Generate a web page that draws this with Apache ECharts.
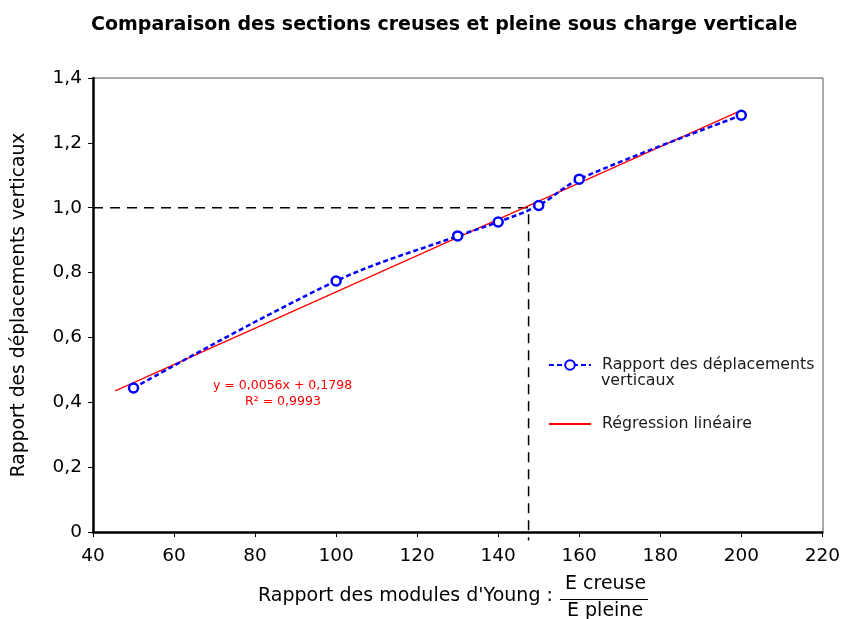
<!DOCTYPE html>
<html>
<head>
<meta charset="utf-8">
<script src="https://cdn.jsdelivr.net/npm/echarts@6/dist/echarts.min.js"></script>
<style>
  html, body { margin: 0; padding: 0; background: #fff; }
  #chart { width: 843px; height: 619px; }
</style>
</head>
<body>
<div id="chart"></div>
<script>
// measured values
var ratioX = [50, 100, 130, 140, 150, 160, 200];
var dispY = [0.444, 0.774, 0.913, 0.956, 1.007, 1.088, 1.285];
var regX = [45.5, 200];
var regY = [0.435, 1.30];
var refX = 147.5;
var refY = 1.0;

var font = "DejaVu Sans";

function comma(v) {
  if (v === 0) return "0";
  return v.toFixed(1).replace(".", ",");
}

var chart = echarts.init(document.getElementById("chart"));

var option = {
  animation: false,
  title: {
    text: "Comparaison des sections creuses et pleine sous charge verticale",
    left: 86,
    top: 11,
    textStyle: { fontFamily: font, fontSize: 19, fontWeight: "bold", color: "#000" },
  },
  grid: { left: 93, top: 78, width: 730, height: 454 },
  legend: {
    orient: "vertical",
    left: 543,
    top: 352,
    itemWidth: 42,
    itemHeight: 12,
    itemGap: 43,
    textStyle: { fontFamily: font, fontSize: 15.8, color: "#1a1a1a", padding: [0, 0, 0, 6] },
    formatter: function (name) {
      return name === "Rapport des déplacements verticaux" ? "Rapport des déplacements" : name;
    },
    data: [
      "Rapport des déplacements verticaux",
      { name: "Régression linéaire", itemStyle: { opacity: 0 } },
    ],
  },
  xAxis: {
    type: "value",
    min: 40,
    max: 220,
    interval: 20,
    axisLine: { onZero: false, lineStyle: { color: "#000", width: 2.5 } },
    axisTick: { lineStyle: { color: "#000" }, length: 5 },
    axisLabel: { fontFamily: font, fontSize: 18.5, color: "#000", margin: 15 },
    splitLine: { show: false },
  },
  yAxis: {
    type: "value",
    min: 0,
    max: 1.4,
    interval: 0.2,
    name: "Rapport des déplacements verticaux",
    nameLocation: "middle",
    nameGap: 64,
    nameTextStyle: { fontFamily: font, fontSize: 18.7, color: "#000" },
    axisLine: { show: true, lineStyle: { color: "#000", width: 2.5 } },
    axisTick: { show: true, lineStyle: { color: "#000" }, length: 5 },
    axisLabel: { fontFamily: font, fontSize: 18.5, color: "#000", margin: 11, formatter: comma },
    splitLine: { show: false },
  },
  series: [
    {
      name: "Rapport des déplacements verticaux",
      type: "line",
      smooth: 0.35,
      data: ratioX.map(function (x, i) { return [x, dispY[i]]; }),
      symbol: "circle",
      symbolSize: 9,
      itemStyle: { color: "#fff", borderColor: "#0000ff", borderWidth: 2.5 },
      lineStyle: { color: "#0000ff", width: 2.5, type: [5, 3] },
      z: 3,
    },
    {
      name: "Régression linéaire",
      type: "line",
      data: regX.map(function (x, i) { return [x, regY[i]]; }),
      symbol: "none",
      lineStyle: { color: "#ff0000", width: 1.3 },
      itemStyle: { color: "#ff0000" },
      clip: false,
      z: 2,
    },
    {
      name: "ref",
      type: "line",
      data: [[40, refY], [refX, refY], [refX, -0.026]],
      symbol: "none",
      lineStyle: { color: "#000", width: 1.5, type: [10, 7] },
      clip: false,
      silent: true,
      z: 1,
    },
  ],
  graphic: [
    // top and right frame
    { type: "polyline", shape: { points: [[93, 78], [823, 78], [823, 532]] }, style: { stroke: "#555", lineWidth: 1, fill: null } },
    // second line of the first legend entry
    {
      type: "text", left: 601, top: 373,
      style: { text: "verticaux", fill: "#1a1a1a", font: "15.8px " + font },
    },
    // regression equation
    {
      type: "text", left: 213, top: 379,
      style: { text: "y = 0,0056x + 0,1798", fill: "#ff0000", font: "12.5px " + font },
    },
    {
      type: "text", left: 245, top: 395,
      style: { text: "R² = 0,9993", fill: "#ff0000", font: "12.5px " + font },
    },
    // x axis title with fraction
    {
      type: "text", left: 258, top: 587,
      style: { text: "Rapport des modules d'Young :", fill: "#000", font: "19px " + font },
    },
    {
      type: "text", left: 565, top: 575,
      style: { text: "E creuse", fill: "#000", font: "19px " + font },
    },
    { type: "line", shape: { x1: 560, y1: 599.5, x2: 648, y2: 599.5 }, style: { stroke: "#000", lineWidth: 1 } },
    {
      type: "text", left: 567, top: 602,
      style: { text: "E pleine", fill: "#000", font: "19px " + font },
    },
  ],
};

chart.setOption(option);
</script>
</body>
</html>
